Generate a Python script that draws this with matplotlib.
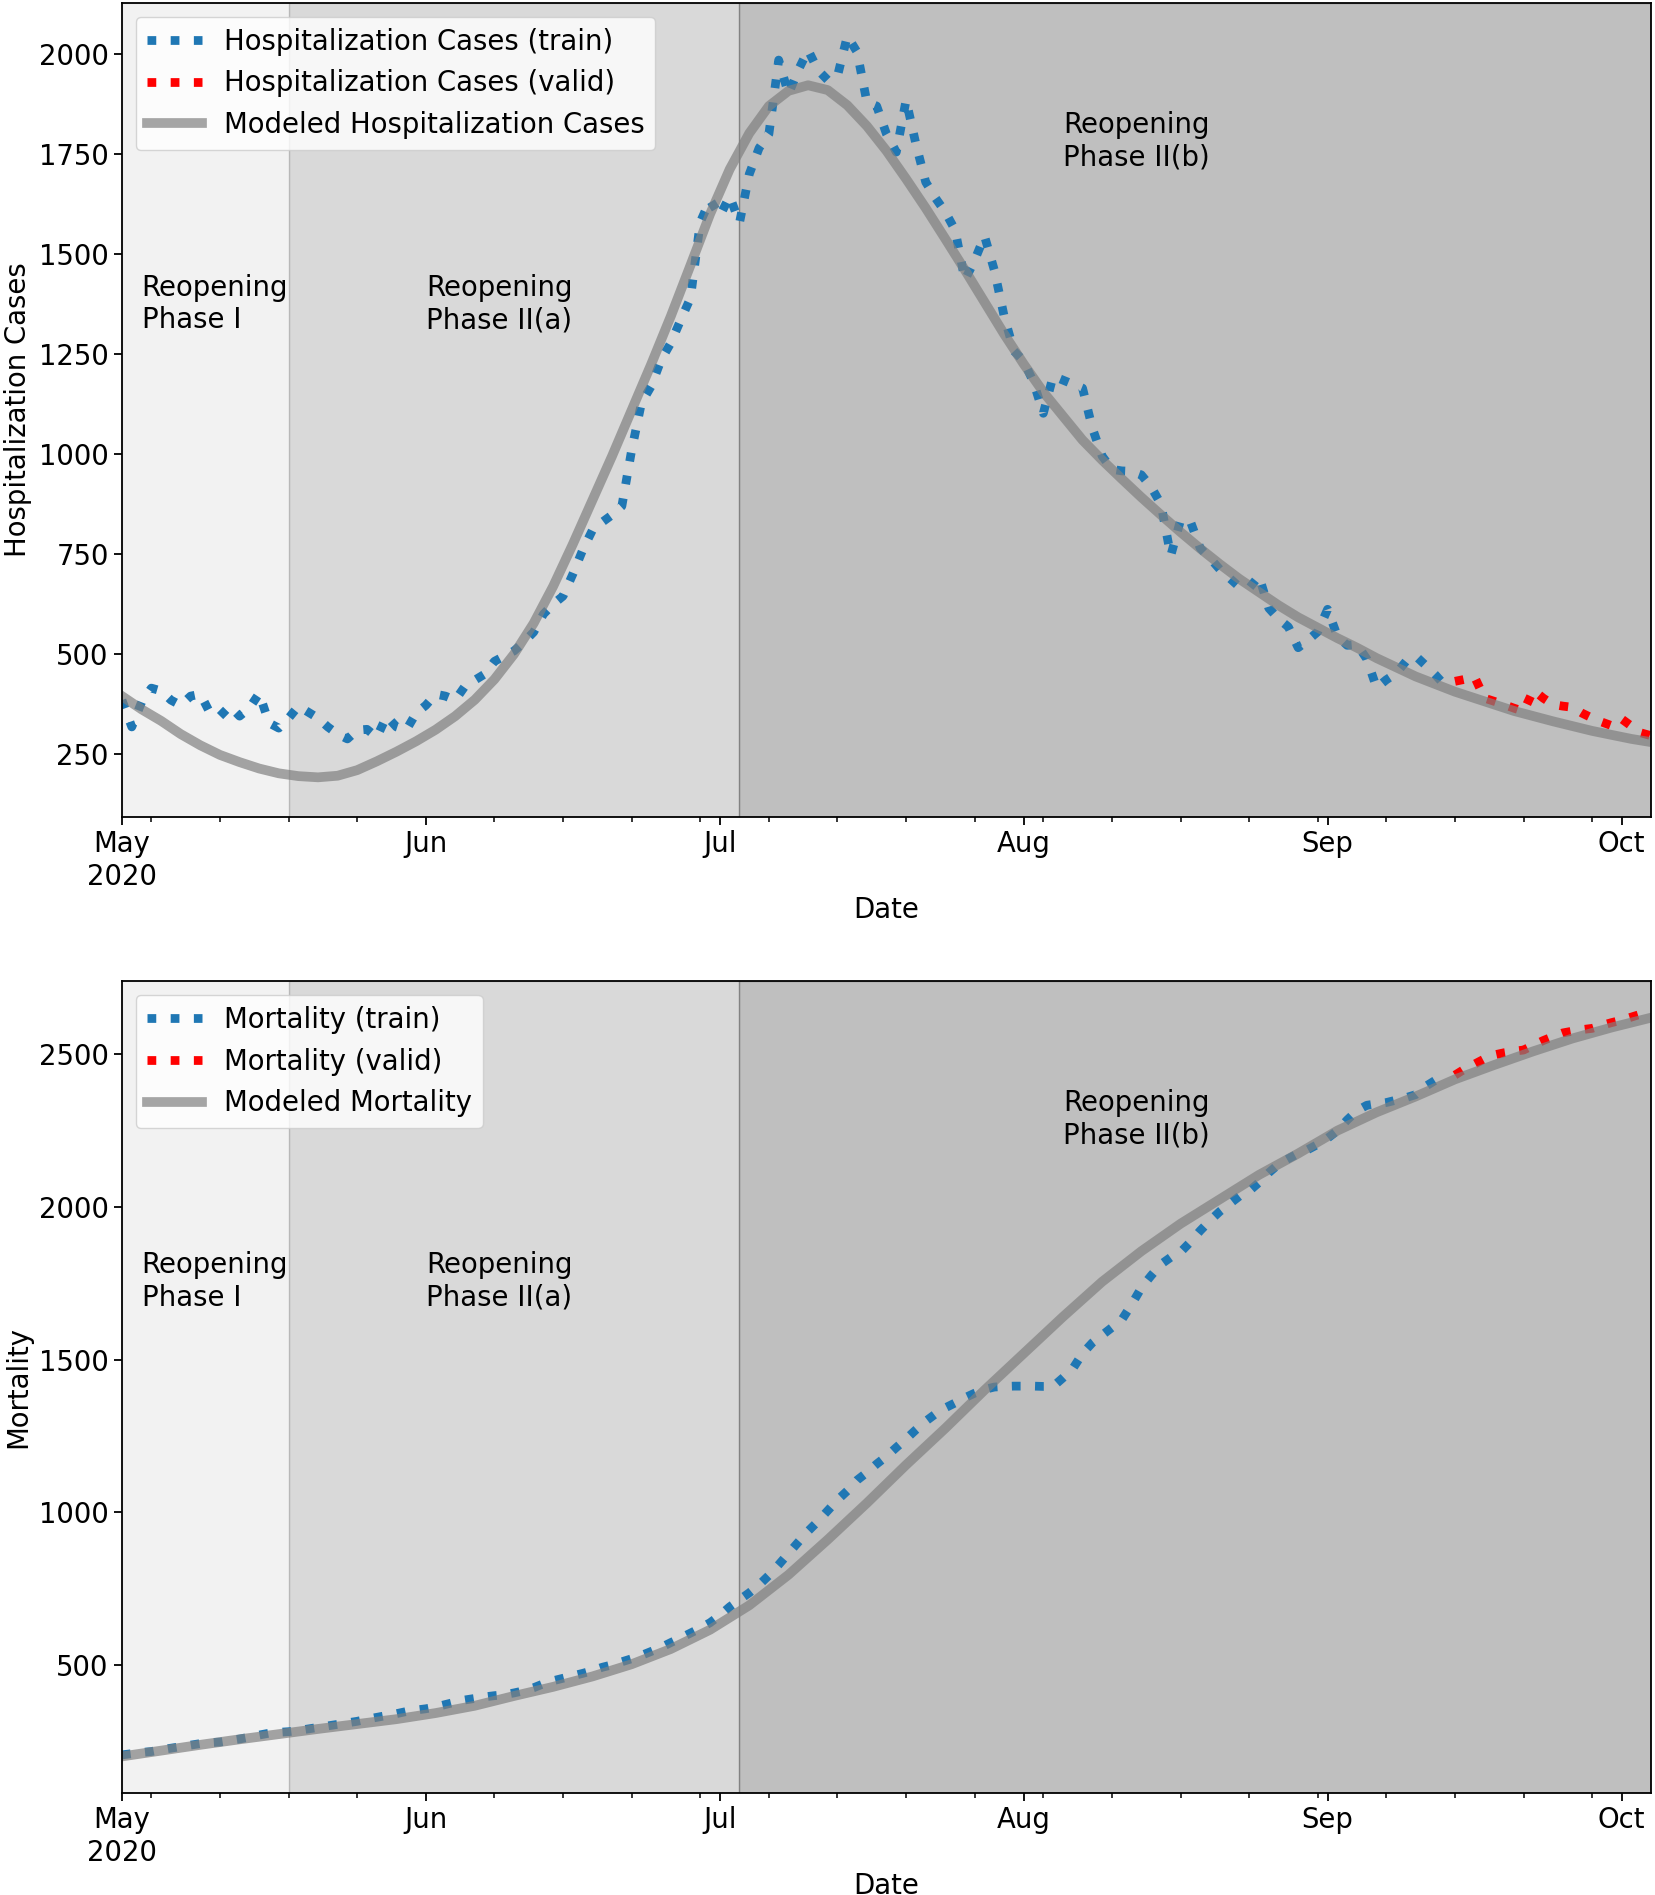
import numpy as np
import pandas as pd
import matplotlib
matplotlib.use("Agg")
import matplotlib.pyplot as plt
import matplotlib.dates as mdates
import matplotlib.transforms as mtransforms

FS = 19.8

# ---- data ----
START_TRAIN = "2020-05-01"
START_VALID = "2020-09-14"
END_DATE = "2020-10-04"

hosp_train = [385, 318, 380, 415, 408, 385, 372, 395, 400, 352,
              345, 370, 345, 365, 402, 328, 315, 340, 370, 355,
              340, 318, 300, 288, 310, 312, 292, 345, 318, 310,
              352, 372, 400, 395, 385, 420, 435, 450, 482, 495,
              508, 530, 555, 600, 625, 645, 700, 760, 810, 830,
              848, 870, 1010, 1128, 1170, 1235, 1278, 1335, 1390, 1580,
              1635, 1595, 1645, 1578, 1700, 1765, 1800, 1985, 1900, 1960,
              2010, 1960, 1935, 1945, 2045, 2005, 1880, 1870, 1800, 1755,
              1885, 1775, 1680, 1640, 1605, 1560, 1435, 1485, 1545, 1460,
              1345, 1258, 1232, 1180, 1102, 1195, 1185, 1175, 1165, 1065,
              995, 962, 958, 957, 948, 918, 875, 746, 835, 832,
              765, 740, 712, 690, 668, 665, 695, 615, 588, 568,
              516, 535, 556, 612, 545, 522, 524, 488, 416, 436,
              452, 482, 495, 472, 448, 421]
hosp_valid = [432, 437, 443, 390, 382, 374, 365, 357, 410, 390,
              374, 370, 367, 352, 340, 330, 321, 338, 320, 303, 296]
# modeled curve, every 2 days from May 1
hosp_model = [395, 362, 333, 300, 272, 248, 230, 214, 202, 195,
              192, 196, 210, 232, 256, 282, 311, 345, 386, 437,
              500, 577, 670, 775, 885, 995, 1110, 1225, 1345, 1472,
              1600, 1712, 1802, 1870, 1908, 1922, 1910, 1872, 1820, 1758,
              1688, 1615, 1538, 1460, 1380, 1300, 1225, 1155, 1095, 1035,
              985, 938, 892, 848, 805, 764, 725, 688, 655, 622,
              592, 566, 540, 516, 490, 467, 444, 425, 406, 390,
              374, 358, 345, 332, 320, 308, 298, 288, 280]

mort_train = [205, 209, 213, 216, 222, 227, 232, 237, 242, 245,
              247, 252, 257, 263, 270, 276, 279, 281, 285, 290,
              295, 300, 305, 310, 315, 322, 328, 334, 340, 347,
              352, 356, 362, 370, 378, 385, 390, 395, 399, 402,
              408, 415, 425, 438, 448, 456, 464, 472, 481, 492,
              500, 510, 520, 531, 544, 557, 573, 588, 604, 620,
              638, 662, 690, 713, 736, 762, 793, 828, 865, 902,
              938, 970, 1005, 1040, 1070, 1105, 1130, 1158, 1183, 1212,
              1240, 1270, 1298, 1322, 1342, 1358, 1375, 1390, 1402, 1410,
              1412, 1413, 1413, 1413, 1412, 1412, 1440, 1470, 1520, 1555,
              1580, 1605, 1630, 1680, 1735, 1775, 1812, 1835, 1852, 1885,
              1922, 1955, 1985, 2010, 2035, 2052, 2080, 2112, 2140, 2158,
              2175, 2188, 2205, 2225, 2250, 2285, 2315, 2333, 2338, 2342,
              2350, 2358, 2368, 2395, 2415, 2425]
mort_valid = [2432, 2452, 2468, 2485, 2498, 2505, 2510, 2514, 2530, 2545,
              2558, 2570, 2576, 2581, 2585, 2595, 2604, 2612, 2622, 2632, 2638]
# modeled curve, every 4 days from May 1
mort_model = [200, 219, 238, 256, 273, 290, 306, 322, 342, 366,
              398, 428, 462, 502, 552, 615, 695, 795, 910, 1030,
              1155, 1275, 1400, 1520, 1640, 1755, 1855, 1945, 2025, 2105,
              2175, 2250, 2310, 2362, 2418, 2465, 2510, 2552, 2588, 2620]

# reopening phases: (start, end, shade alpha, label, label date, label y in axes frac)
phases = [("2020-05-01", "2020-05-18", 0.05, "Reopening\nPhase I", "2020-05-03", 0.667),
          ("2020-05-18", "2020-07-03", 0.15, "Reopening\nPhase II(a)", "2020-06-01", 0.667),
          ("2020-07-03", "2020-10-04", 0.25, "Reopening\nPhase II(b)", "2020-08-05", 0.867)]

month_ticks = ["2020-05-01", "2020-06-01", "2020-07-01", "2020-08-01", "2020-09-01", "2020-10-01"]
month_labels = ["May\n2020", "Jun", "Jul", "Aug", "Sep", "Oct"]

d_train = pd.date_range(START_TRAIN, periods=len(hosp_train), freq="D")
d_valid = pd.date_range(START_VALID, periods=len(hosp_valid), freq="D")
d_hmodel = pd.date_range(START_TRAIN, periods=len(hosp_model), freq="2D")
d_mmodel = pd.date_range(START_TRAIN, periods=len(mort_model), freq="4D")

fig = plt.figure(figsize=(16.55, 18.95), dpi=100)
ax1 = fig.add_axes([0.0737, 0.5689, 0.9239, 0.4296])
ax2 = fig.add_axes([0.0737, 0.0538, 0.9239, 0.4285])


def draw(ax, train, valid, model, d_model, name, ylabel, ylim, yticks):
    for s, e, a, lab, ld, ly in phases:
        ax.axvspan(pd.Timestamp(s), pd.Timestamp(e), color="k", alpha=a)
        tr = mtransforms.blended_transform_factory(ax.transData, ax.transAxes)
        ax.text(pd.Timestamp(ld), ly, lab, transform=tr, fontsize=FS, va="top", ha="left")
    ax.plot(d_train, train, ":", color="tab:blue", lw=6.3, label=f"{name} (train)")
    ax.plot(d_valid, valid, ":", color="red", lw=6.3, label=f"{name} (valid)")
    ax.plot(d_model, model, "-", color="grey", alpha=0.7, lw=7, label=f"Modeled {name}")
    ax.set_xlim(pd.Timestamp(START_TRAIN), pd.Timestamp(END_DATE))
    ax.set_ylim(*ylim)
    ax.set_yticks(yticks)
    ax.set_xticks([pd.Timestamp(t) for t in month_ticks])
    ax.set_xticklabels(month_labels)
    ax.xaxis.set_minor_locator(mdates.WeekdayLocator(byweekday=mdates.MO))
    ax.tick_params(labelsize=FS, length=6, width=1.3)
    ax.tick_params(which="minor", length=3.5, width=1.1)
    ax.set_xlabel("Date", fontsize=FS, labelpad=4)
    ax.set_ylabel(ylabel, fontsize=FS, labelpad=5)
    for sp in ax.spines.values():
        sp.set_linewidth(1.3)
    ax.legend(loc="upper left", fontsize=FS)


draw(ax1, hosp_train, hosp_valid, hosp_model, d_hmodel, "Hospitalization Cases",
     "Hospitalization Cases", (93, 2128), [250, 500, 750, 1000, 1250, 1500, 1750, 2000])
draw(ax2, mort_train, mort_valid, mort_model, d_mmodel, "Mortality",
     "Mortality", (80, 2740), [500, 1000, 1500, 2000, 2500])

fig.savefig("out.png", dpi=100)
